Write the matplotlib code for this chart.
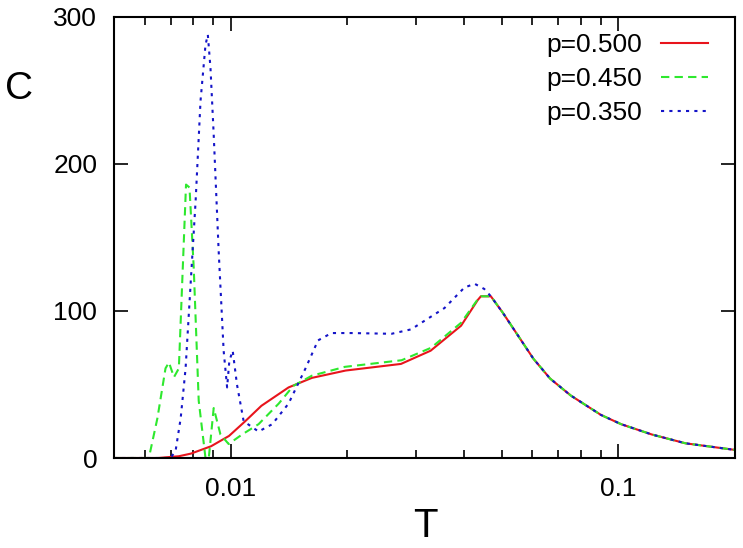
import matplotlib
matplotlib.use("Agg")
import matplotlib.pyplot as plt
from matplotlib.ticker import LogLocator, NullFormatter, FixedLocator

plt.rcParams['font.family'] = ['Liberation Sans', 'DejaVu Sans']

# common high-temperature tail (all three curves coincide there)
tail_T = [0.0503, 0.0604, 0.0667, 0.0754, 0.0902, 0.1017, 0.122, 0.149, 0.2]
tail_C = [99, 67.5, 54, 42.5, 29.3, 23, 16, 10, 5.5]

red_T = [0.005, 0.0065, 0.00735, 0.0079, 0.0089, 0.0099, 0.0109, 0.0120,
         0.0141, 0.0162, 0.0198, 0.0275, 0.0328, 0.0393, 0.0434, 0.0442, 0.0469]
red_C = [0, 0, 1.2, 3, 8, 15, 25, 35.5, 48, 54.5, 59.5, 64, 73, 90, 107.5, 110, 110]

green_T = [0.005, 0.00615, 0.00647, 0.00679, 0.00693, 0.00714, 0.00735, 0.00767,
           0.00783, 0.00803, 0.00827, 0.00861, 0.00878, 0.00904, 0.00941, 0.00988,
           0.0107, 0.0118, 0.0133, 0.0145, 0.0162, 0.0197, 0.0276, 0.0329, 0.0393,
           0.0434, 0.0442, 0.0469]
green_C = [0, 0, 27, 61, 65, 55, 61, 186, 184, 129, 39, 0, 0, 34, 16, 9.5,
           16, 23, 37, 49, 56, 62, 66.5, 75, 92, 108, 110, 110]

blue_T = [0.005, 0.00591, 0.00700, 0.00721, 0.00743, 0.00765, 0.00788, 0.00812,
          0.00836, 0.00861, 0.00873, 0.00887, 0.00904, 0.00931, 0.00959, 0.00979,
          0.00992, 0.01012, 0.01038, 0.0108, 0.0118, 0.0128, 0.0141, 0.0156,
          0.0168, 0.0182, 0.0205, 0.0260, 0.0292, 0.0356, 0.0401, 0.0426, 0.0451,
          0.0469]
blue_C = [0, 0, 0, 5, 27, 61, 118, 175, 243, 281, 288, 265, 220, 141, 73, 48,
          66, 73, 50, 25, 18, 23, 37, 61, 80, 85, 85, 84.5, 87.5, 102, 116, 118.5,
          115, 110]

labels = ['p=0.500', 'p=0.450', 'p=0.350']

fig = plt.figure(figsize=(7.43, 5.48), dpi=100)
ax = fig.add_axes([114 / 743, 90 / 548, 621 / 743, 441 / 548])

ax.plot(red_T + tail_T, red_C + tail_C, color='#e8141c', lw=1.5,
        label=labels[0])
ax.plot(green_T + tail_T, green_C + tail_C, color='#2ee82e', lw=1.5,
        dashes=(4, 2.5), label=labels[1])
ax.plot(blue_T + tail_T, blue_C + tail_C, color='#1414c8', lw=1.5,
        dashes=(1.5, 2.5), label=labels[2])

ax.set_xscale('log')
ax.set_xlim(0.005, 0.2)
ax.set_ylim(0, 300)
ax.xaxis.set_major_locator(FixedLocator([0.01, 0.1]))
ax.set_xticklabels(['0.01', '0.1'])
ax.xaxis.set_minor_locator(LogLocator(base=10, subs=range(2, 10)))
ax.xaxis.set_minor_formatter(NullFormatter())
ax.set_yticks([0, 100, 200, 300])

ax.tick_params(which='both', direction='in', top=True, right=True,
               labelsize=19, width=1.2)
ax.tick_params(which='major', length=10)
ax.tick_params(which='minor', length=6)
ax.tick_params(axis='x', pad=14)
ax.tick_params(axis='y', pad=12)
for s in ax.spines.values():
    s.set_linewidth(1.5)

fig.text(19 / 743, 1 - 89 / 548, 'C', fontsize=28, ha='center', va='center')
fig.text(425 / 743, 1 - 526 / 548, 'T', fontsize=29, ha='center', va='center')

ax.legend(loc='upper right', bbox_to_anchor=(708 / 743, 1 - 33 / 548),
          bbox_transform=fig.transFigure, frameon=False, markerfirst=False,
          fontsize=19, handlelength=1.8, handletextpad=0.7, labelspacing=0.38,
          borderpad=0, borderaxespad=0)

fig.savefig('out.png', dpi=100)
